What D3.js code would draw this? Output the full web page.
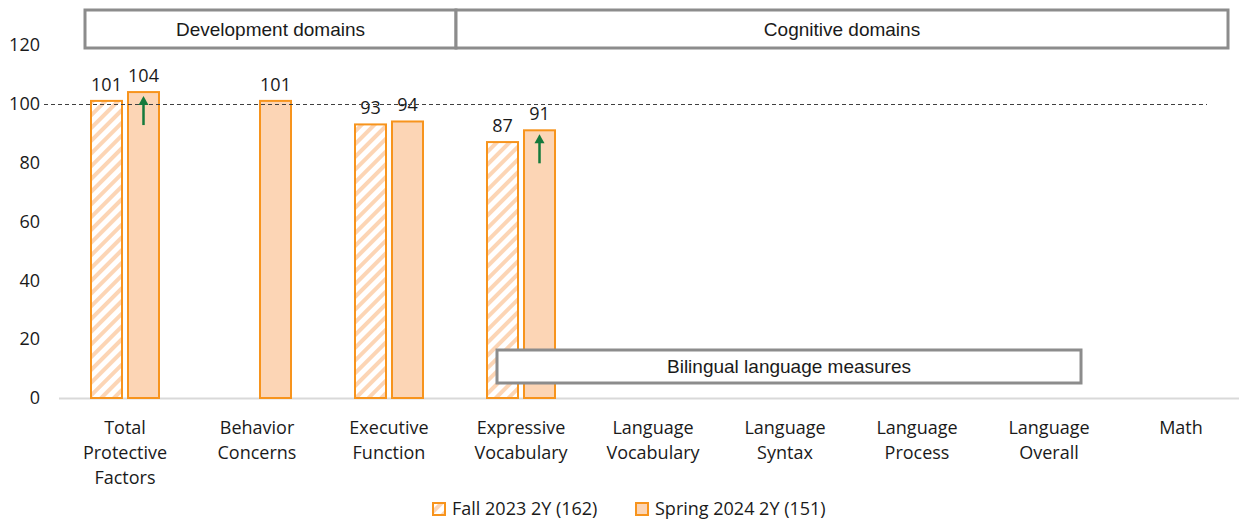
<!DOCTYPE html>
<html>
<head>
<meta charset="utf-8">
<script src="https://cdn.jsdelivr.net/npm/d3@7"></script>
<style>
  body { margin: 0; background: #fff; }
  text { font-family: "Open Sans", "Noto Sans", sans-serif; fill: #1a1a1a; }
  .box text { font-family: "Liberation Sans Narrow", "Liberation Sans", Arial, sans-serif; }
</style>
</head>
<body>
<script>
// categories and series
let categories = [
    ['Total', 'Protective', 'Factors'],
    ['Behavior', 'Concerns'],
    ['Executive', 'Function'],
    ['Expressive', 'Vocabulary'],
    ['Language', 'Vocabulary'],
    ['Language', 'Syntax'],
    ['Language', 'Process'],
    ['Language', 'Overall'],
    ['Math']
]
let fall2023 = [101, null, 93, 87, null, null, null, null, null]
let spring2024 = [104, 101, 94, 91, null, null, null, null, null]
let improved = [true, false, false, true, false, false, false, false, false]
let seriesNames = ['Fall 2023 2Y (162)', 'Spring 2024 2Y (151)']
let yTicks = [0, 20, 40, 60, 80, 100, 120]
let benchmark = 100

{
    let width = 1239
    let height = 522
    let svg = d3.select('body').append('svg')
        .attr('width', width)
        .attr('height', height)

    let orange = '#f7941d'
    let peach = '#fcd5b5'

    let defs = svg.append('defs')
    let pat = defs.append('pattern')
        .attr('id', 'hatch')
        .attr('patternUnits', 'userSpaceOnUse')
        .attr('width', 9)
        .attr('height', 9)
        .attr('patternTransform', 'rotate(45)')
    pat.append('rect').attr('width', 9).attr('height', 9).attr('fill', '#fff')
    pat.append('rect').attr('width', 4).attr('height', 9).attr('fill', peach)

    let x = d3.scaleBand()
        .domain(d3.range(categories.length))
        .range([59, 1247])
    let y = d3.scaleLinear()
        .domain([0, 120])
        .range([398, 45])

    let barW = 31
    let gap = 6

    // y labels
    svg.append('g').selectAll('text').data(yTicks)
        .enter()
        .append('text')
        .attr('x', 40)
        .attr('y', d => y(d))
        .attr('dy', '0.35em')
        .attr('text-anchor', 'end')
        .attr('font-size', 18)
        .text(d => d)

    // baseline
    svg.append('line')
        .attr('x1', 59).attr('x2', 1239)
        .attr('y1', y(0) + 0.5).attr('y2', y(0) + 0.5)
        .attr('stroke', '#d9d9d9')
        .attr('stroke-width', 2)

    // fall bars
    let fallX = i => x(i) + x.bandwidth() / 2 - gap / 2 - barW
    let springX = i => x(i) + x.bandwidth() / 2 + gap / 2
    let fallData = fall2023.map((v, i) => ({v, i})).filter(d => d.v != null)
    let springData = spring2024.map((v, i) => ({v, i})).filter(d => d.v != null)

    svg.append('g').selectAll('rect').data(fallData)
        .enter()
        .append('rect')
        .attr('x', d => fallX(d.i))
        .attr('y', d => y(d.v))
        .attr('width', barW)
        .attr('height', d => y(0) - y(d.v))
        .attr('fill', 'url(#hatch)')
        .attr('stroke', orange)
        .attr('stroke-width', 2)

    svg.append('g').selectAll('rect').data(springData)
        .enter()
        .append('rect')
        .attr('x', d => springX(d.i))
        .attr('y', d => y(d.v))
        .attr('width', barW)
        .attr('height', d => y(0) - y(d.v))
        .attr('fill', peach)
        .attr('stroke', orange)
        .attr('stroke-width', 2)

    // value labels
    svg.append('g').selectAll('text').data(fallData)
        .enter()
        .append('text')
        .attr('x', d => fallX(d.i) + barW / 2)
        .attr('y', d => y(d.v) - 10)
        .attr('text-anchor', 'middle')
        .attr('font-size', 18)
        .text(d => d.v)
    svg.append('g').selectAll('text').data(springData)
        .enter()
        .append('text')
        .attr('x', d => springX(d.i) + barW / 2)
        .attr('y', d => y(d.v) - 10)
        .attr('text-anchor', 'middle')
        .attr('font-size', 18)
        .text(d => d.v)

    // benchmark dashed line
    svg.append('line')
        .attr('x1', 44).attr('x2', 1207)
        .attr('y1', Math.round(y(benchmark)) + 0.5).attr('y2', Math.round(y(benchmark)) + 0.5)
        .attr('stroke', '#404040')
        .attr('stroke-width', 1)
        .attr('stroke-dasharray', '4,3')

    // improvement arrows
    let green = '#157a3c'
    let arrows = springData.filter(d => improved[d.i])
    let ag = svg.append('g').selectAll('g').data(arrows).enter().append('g')
    ag.append('line')
        .attr('x1', d => springX(d.i) + barW / 2)
        .attr('x2', d => springX(d.i) + barW / 2)
        .attr('y1', d => y(d.v) + 8)
        .attr('y2', d => y(d.v) + 33)
        .attr('stroke', green)
        .attr('stroke-width', 2.5)
    ag.append('path')
        .attr('d', d => {
            let cx = springX(d.i) + barW / 2
            let ty = y(d.v) + 4
            return `M${cx},${ty} L${cx - 5},${ty + 9} L${cx + 5},${ty + 9} Z`
        })
        .attr('fill', green)

    // category labels
    let cat = svg.append('g').selectAll('text').data(categories)
        .enter()
        .append('text')
        .attr('x', (d, i) => x(i) + x.bandwidth() / 2)
        .attr('y', 434)
        .attr('text-anchor', 'middle')
        .attr('font-size', 18)
    cat.selectAll('tspan').data(d => d)
        .enter()
        .append('tspan')
        .attr('x', function () { return d3.select(this.parentNode).attr('x') })
        .attr('dy', (d, j) => j === 0 ? 0 : 25)
        .text(d => d)

    // domain boxes
    let boxes = [
        {label: 'Development domains', x0: 85, x1: 456, y0: 10, y1: 48},
        {label: 'Cognitive domains', x0: 456, x1: 1228, y0: 10, y1: 48},
        {label: 'Bilingual language measures', x0: 497, x1: 1081, y0: 350, y1: 383}
    ]
    let bg = svg.append('g').attr('class', 'box').selectAll('g').data(boxes).enter().append('g')
    bg.append('rect')
        .attr('x', d => d.x0)
        .attr('y', d => d.y0)
        .attr('width', d => d.x1 - d.x0)
        .attr('height', d => d.y1 - d.y0)
        .attr('fill', '#fff')
        .attr('stroke', '#8c8c8c')
        .attr('stroke-width', 3)
    bg.append('text')
        .attr('x', d => (d.x0 + d.x1) / 2)
        .attr('y', d => (d.y0 + d.y1) / 2)
        .attr('dy', '0.35em')
        .attr('text-anchor', 'middle')
        .attr('font-size', 19)
        .text(d => d.label)

    // legend
    let legend = [
        {name: seriesNames[0], fill: 'url(#hatch)', x: 433},
        {name: seriesNames[1], fill: peach, x: 636}
    ]
    let lg = svg.append('g').selectAll('g').data(legend).enter().append('g')
    lg.append('rect')
        .attr('x', d => d.x)
        .attr('y', 503)
        .attr('width', 12)
        .attr('height', 12)
        .attr('fill', d => d.fill)
        .attr('stroke', orange)
        .attr('stroke-width', 2)
    lg.append('text')
        .attr('x', d => d.x + 19)
        .attr('y', 509)
        .attr('dy', '0.35em')
        .attr('font-size', 18)
        .text(d => d.name)
}
</script>
</body>
</html>
